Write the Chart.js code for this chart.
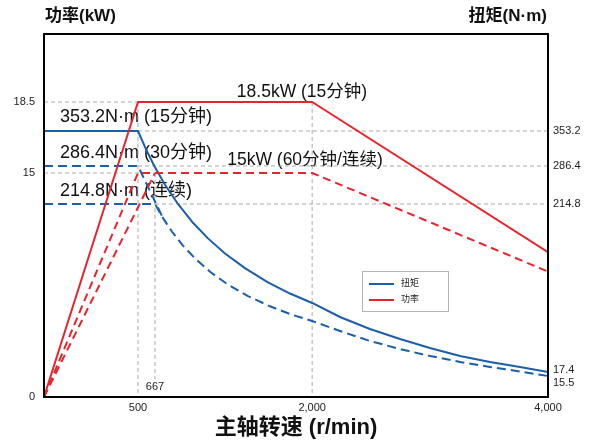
<!DOCTYPE html>
<html>
<head>
<meta charset="utf-8">
<script src="https://cdn.jsdelivr.net/npm/chart.js@4.4.1/dist/chart.umd.min.js"></script>
<style>
  html, body { margin: 0; padding: 0; background: #fff; }
</style>
</head>
<body>
<canvas id="motor-chart" width="594" height="443"></canvas>
<script>
const FONT = '"Liberation Sans", Arial, "Noto Sans CJK SC", sans-serif';

// 转速 r/min
const xTicks = [500, 2000, 4000];
const powerTicks = [0, 15, 18.5];
const torqueTicks = [353.2, 286.4, 214.8, 17.4, 15.5];

// 功率 kW
const powerS1Rpm = [0, 500, 2000, 4000];
const powerS1 = [0, 18.5, 18.5, 9.7];
const powerS6Rpm = [0, 500, 2000, 4000];
const powerS6 = [0, 15, 15, 8.4];
const powerContRpm = [0, 667];
const powerCont = [0, 15];

// 扭矩 N·m
const torqueS1Rpm = [0, 500, 579, 667, 752, 862, 981, 1116, 1261, 1430, 1625, 1812, 2000, 2236, 2490, 2745, 2999, 3254, 3508, 3763, 4000];
const torqueS1 = [353.2, 353.2, 318, 284, 251, 214.8, 194, 174.4, 156.6, 139.4, 122.8, 109.6, 98.5, 82, 67.9, 56.2, 45.6, 36.2, 29.2, 23.3, 17.4];
const torque30Rpm = [0, 500, 735];
const torque30 = [286.4, 286.4, 198.2];
const torqueContRpm = [0, 667, 735, 811, 904, 1015, 1142, 1286, 1456, 1642, 1829, 2000, 2236, 2490, 2745, 2999, 3254, 3508, 3763, 4000];
const torqueCont = [214.8, 214.8, 198.2, 182.4, 165.9, 149.7, 134.3, 120.1, 106.6, 94.6, 84.7, 77.3, 65.6, 53.8, 44.4, 36.2, 29.2, 23.3, 18, 15.5];

// grey reference lines: axis, rpm pair, value pair
const guideLines = [
  ['yP', [0, 500], [18.5, 18.5]],
  ['yP', [0, 500], [15, 15]],
  ['yT', [500, 4000], [353.2, 353.2]],
  ['yT', [500, 4000], [286.4, 286.4]],
  ['yT', [667, 4000], [214.8, 214.8]],
  ['yP', [500, 500], [18.5, 0]],
  ['yP', [667, 667], [15, 1.2]],
  ['yP', [2000, 2000], [18.5, 0]]
];

const RED = '#e8232b';
const BLUE = '#1b5eab';

// the drawing is not to scale, so each axis is stretched piecewise
const scaleBreaks = {
  x: [[0, 0], [500, 0.1865], [667, 0.2202], [4000, 1]],
  yP: [[0, 0], [15, 0.6171], [18.5, 0.8127], [22, 1]],
  yT: [[0, 0], [15.5, 0.0579], [17.4, 0.0689], [214.8, 0.5317], [286.4, 0.6364], [353.2, 0.7328], [540, 1]]
};

class PiecewiseScale extends Chart.LinearScale {
  toDecimal(v) {
    const b = scaleBreaks[this.id];
    if (v <= b[0][0]) return b[0][1];
    for (let i = 1; i < b.length; i++) {
      if (v <= b[i][0]) {
        const [v0, f0] = b[i - 1], [v1, f1] = b[i];
        return f0 + (v - v0) / (v1 - v0) * (f1 - f0);
      }
    }
    return b[b.length - 1][1];
  }
  fromDecimal(d) {
    const b = scaleBreaks[this.id];
    for (let i = 1; i < b.length; i++) {
      if (d <= b[i][1]) {
        const [v0, f0] = b[i - 1], [v1, f1] = b[i];
        return v0 + (d - f0) / (f1 - f0) * (v1 - v0);
      }
    }
    return b[b.length - 1][0];
  }
  getPixelForValue(v) {
    return v === null ? NaN : this.getPixelForDecimal(this.toDecimal(v));
  }
  getValueForPixel(p) {
    return this.fromDecimal(this.getDecimalForPixel(p));
  }
}
PiecewiseScale.id = 'piecewise';
Chart.register(PiecewiseScale);

const pts = (xs, ys) => xs.map((x, i) => ({ x: x, y: ys[i] }));

const datasets = [
  { label: '功率', data: pts(powerS1Rpm, powerS1), yAxisID: 'yP', borderColor: RED, borderWidth: 2 },
  { label: '功率 60分钟', data: pts(powerS6Rpm, powerS6), yAxisID: 'yP', borderColor: RED, borderWidth: 2, borderDash: [8, 5] },
  { label: '功率 连续', data: pts(powerContRpm, powerCont), yAxisID: 'yP', borderColor: RED, borderWidth: 2, borderDash: [8, 5] },
  { label: '扭矩', data: pts(torqueS1Rpm, torqueS1), yAxisID: 'yT', borderColor: BLUE, borderWidth: 2 },
  { label: '扭矩 30分钟', data: pts(torque30Rpm, torque30), yAxisID: 'yT', borderColor: BLUE, borderWidth: 2, borderDash: [9, 5] },
  { label: '扭矩 连续', data: pts(torqueContRpm, torqueCont), yAxisID: 'yT', borderColor: BLUE, borderWidth: 2, borderDash: [9, 5] }
];
guideLines.forEach(g => {
  datasets.push({ data: pts(g[1], g[2]), yAxisID: g[0], borderColor: '#ababab', borderWidth: 1, borderDash: [4, 3] });
});

const decor = {
  id: 'decor',
  beforeDatasetsDraw(chart) {
    const ctx = chart.ctx;
    ctx.save();
    ctx.fillStyle = '#111';
    ctx.textBaseline = 'middle';
    ctx.font = '18px ' + FONT;
    ctx.textAlign = 'left';
    ctx.fillText('353.2N·m (15分钟)', 60, 117);
    ctx.fillText('286.4N·m (30分钟)', 60, 153);
    ctx.fillText('214.8N·m (连续)', 60, 191);
    ctx.font = '17.5px ' + FONT;
    ctx.textAlign = 'center';
    ctx.fillText('18.5kW (15分钟)', 302, 92);
    ctx.fillText('15kW (60分钟/连续)', 305, 160);
    ctx.restore();
  },
  afterDraw(chart) {
    const ctx = chart.ctx;
    const a = chart.chartArea;
    ctx.save();
    ctx.strokeStyle = '#000';
    ctx.lineWidth = 2;
    ctx.strokeRect(a.left, a.top, a.right - a.left, a.bottom - a.top);

    ctx.fillStyle = '#111';
    ctx.textBaseline = 'middle';
    ctx.font = '600 17px ' + FONT;
    ctx.textAlign = 'left';
    ctx.fillText('功率(kW)', 45, 16);
    ctx.textAlign = 'right';
    ctx.fillText('扭矩(N·m)', 547, 16);

    ctx.font = '11px ' + FONT;
    ctx.fillStyle = '#222';
    ctx.textAlign = 'left';
    const shift = { 17.4: -2, 15.5: 7 };
    torqueTicks.forEach(v => {
      ctx.fillText(String(v), a.right + 5, chart.scales.yT.getPixelForValue(v) + (shift[v] || 0));
    });
    ctx.textAlign = 'center';
    ctx.fillText('667', chart.scales.x.getPixelForValue(667), 387);

    // legend
    ctx.strokeStyle = '#b4b4b4';
    ctx.lineWidth = 1;
    ctx.fillStyle = '#fff';
    ctx.fillRect(362.5, 271.5, 86, 40);
    ctx.strokeRect(362.5, 271.5, 86, 40);
    ctx.lineWidth = 2;
    ctx.strokeStyle = BLUE;
    ctx.beginPath(); ctx.moveTo(369, 284); ctx.lineTo(394, 284); ctx.stroke();
    ctx.strokeStyle = RED;
    ctx.beginPath(); ctx.moveTo(369, 300); ctx.lineTo(394, 300); ctx.stroke();
    ctx.fillStyle = '#222';
    ctx.font = '9px ' + FONT;
    ctx.textAlign = 'left';
    ctx.fillText('扭矩', 401, 284);
    ctx.fillText('功率', 401, 300);
    ctx.restore();
  }
};

new Chart(document.getElementById('motor-chart'), {
  type: 'line',
  data: { datasets: datasets },
  plugins: [decor],
  options: {
    responsive: false,
    animation: false,
    devicePixelRatio: 1,
    layout: { padding: { top: 34, left: 0, right: 0, bottom: 0 } },
    elements: { point: { radius: 0 }, line: { tension: 0, fill: false, borderJoinStyle: 'round' } },
    plugins: { legend: { display: false }, tooltip: { enabled: false } },
    scales: {
      x: {
        type: 'piecewise', min: 0, max: 4000,
        afterBuildTicks: s => { s.ticks = xTicks.map(v => ({ value: v })); },
        afterFit: s => { s.height = 46; },
        grid: { display: false, drawTicks: false },
        border: { display: false },
        ticks: {
          autoSkip: false, maxRotation: 0, padding: 4, color: '#222',
          font: { size: 11, family: FONT },
          callback: v => v.toLocaleString('en-US')
        },
        title: {
          display: true, text: '主轴转速 (r/min)', color: '#111',
          font: { size: 22, weight: 'bold', family: FONT },
          padding: { top: 0, bottom: 2 }
        }
      },
      yP: {
        type: 'piecewise', position: 'left', min: 0, max: 22,
        afterBuildTicks: s => { s.ticks = powerTicks.map(v => ({ value: v })); },
        afterFit: s => { s.width = 44; },
        grid: { display: false, drawTicks: false },
        border: { display: false },
        ticks: { padding: 9, color: '#222', font: { size: 11, family: FONT }, callback: v => String(v) }
      },
      yT: {
        type: 'piecewise', position: 'right', min: 0, max: 540,
        afterBuildTicks: s => { s.ticks = torqueTicks.map(v => ({ value: v })); },
        afterFit: s => { s.width = 46; },
        grid: { display: false, drawTicks: false },
        border: { display: false },
        ticks: { display: false }
      }
    }
  }
});
</script>
</body>
</html>
